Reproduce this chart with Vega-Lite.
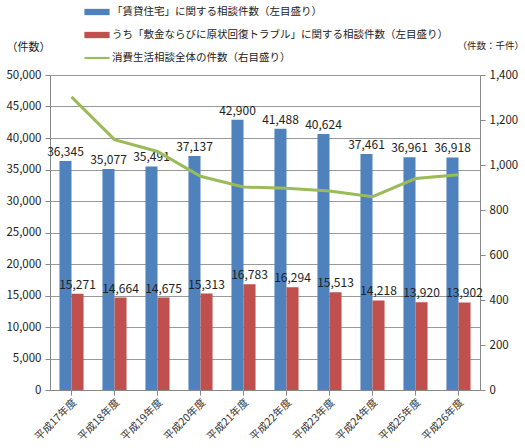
{
  "$schema": "https://vega.github.io/schema/vega-lite/v6.json",
  "autosize": {"type": "none"},
  "width": 430,
  "height": 315,
  "padding": {"left": 50, "top": 75, "right": 45, "bottom": 58},
  "background": "white",
  "config": {
    "font": "Noto Sans CJK JP",
    "view": {"stroke": null},
    "axis": {"labelFont": "Noto Sans CJK JP", "labelFontSize": 11.5, "labelColor": "#222", "domainColor": "#888", "tickColor": "#888", "gridColor": "#999", "titleFont": "Noto Sans CJK JP", "titleFontWeight": "normal", "titleFontSize": 11, "titleColor": "#222", "labelOverlap": false}
  },
  "datasets": {
    "main": [
      {"year": "平成17年度", "series": "「賃貸住宅」に関する相談件数（左目盛り）", "value": 36345},
      {"year": "平成18年度", "series": "「賃貸住宅」に関する相談件数（左目盛り）", "value": 35077},
      {"year": "平成19年度", "series": "「賃貸住宅」に関する相談件数（左目盛り）", "value": 35491},
      {"year": "平成20年度", "series": "「賃貸住宅」に関する相談件数（左目盛り）", "value": 37137},
      {"year": "平成21年度", "series": "「賃貸住宅」に関する相談件数（左目盛り）", "value": 42900},
      {"year": "平成22年度", "series": "「賃貸住宅」に関する相談件数（左目盛り）", "value": 41488},
      {"year": "平成23年度", "series": "「賃貸住宅」に関する相談件数（左目盛り）", "value": 40624},
      {"year": "平成24年度", "series": "「賃貸住宅」に関する相談件数（左目盛り）", "value": 37461},
      {"year": "平成25年度", "series": "「賃貸住宅」に関する相談件数（左目盛り）", "value": 36961},
      {"year": "平成26年度", "series": "「賃貸住宅」に関する相談件数（左目盛り）", "value": 36918},
      {"year": "平成17年度", "series": "うち「敷金ならびに原状回復トラブル」に関する相談件数（左目盛り）", "value": 15271},
      {"year": "平成18年度", "series": "うち「敷金ならびに原状回復トラブル」に関する相談件数（左目盛り）", "value": 14664},
      {"year": "平成19年度", "series": "うち「敷金ならびに原状回復トラブル」に関する相談件数（左目盛り）", "value": 14675},
      {"year": "平成20年度", "series": "うち「敷金ならびに原状回復トラブル」に関する相談件数（左目盛り）", "value": 15313},
      {"year": "平成21年度", "series": "うち「敷金ならびに原状回復トラブル」に関する相談件数（左目盛り）", "value": 16783},
      {"year": "平成22年度", "series": "うち「敷金ならびに原状回復トラブル」に関する相談件数（左目盛り）", "value": 16294},
      {"year": "平成23年度", "series": "うち「敷金ならびに原状回復トラブル」に関する相談件数（左目盛り）", "value": 15513},
      {"year": "平成24年度", "series": "うち「敷金ならびに原状回復トラブル」に関する相談件数（左目盛り）", "value": 14218},
      {"year": "平成25年度", "series": "うち「敷金ならびに原状回復トラブル」に関する相談件数（左目盛り）", "value": 13920},
      {"year": "平成26年度", "series": "うち「敷金ならびに原状回復トラブル」に関する相談件数（左目盛り）", "value": 13902}
    ],
    "total": [
      {"year": "平成17年度", "total": 1303},
      {"year": "平成18年度", "total": 1113},
      {"year": "平成19年度", "total": 1060},
      {"year": "平成20年度", "total": 950},
      {"year": "平成21年度", "total": 902},
      {"year": "平成22年度", "total": 897},
      {"year": "平成23年度", "total": 884},
      {"year": "平成24年度", "total": 859},
      {"year": "平成25年度", "total": 940},
      {"year": "平成26年度", "total": 957}
    ]
  },
  "encoding": {
    "x": {
      "field": "year", "type": "nominal", "sort": null,
      "scale": {"paddingInner": 0.44, "paddingOuter": 0.22},
      "axis": {"title": null, "labelAngle": -45, "labelFontSize": 10.5, "labelColor": "#333", "domainColor": "#888", "tickSize": 5, "ticks": true}
    }
  },
  "layer": [
    {
      "data": {"name": "main"},
      "encoding": {
        "xOffset": {"field": "series", "type": "nominal", "sort": null, "scale": {"paddingInner": 0, "paddingOuter": 0}},
        "y": {"field": "value", "type": "quantitative", "scale": {"domain": [0, 50000]},
          "axis": {"orient": "left", "values": [0,5000,10000,15000,20000,25000,30000,35000,40000,45000,50000], "format": ",d", "grid": true, "tickSize": 5, "labelPadding": 4, "labelOverlap": false,
            "title": "（件数）", "titleAngle": 0, "titleAlign": "left", "titleBaseline": "middle", "titleX": -44, "titleY": -28}}
      },
      "layer": [
        {
          "mark": {"type": "bar"},
          "encoding": {
            "color": {
              "field": "series", "type": "nominal",
              "scale": {
                "domain": ["「賃貸住宅」に関する相談件数（左目盛り）", "うち「敷金ならびに原状回復トラブル」に関する相談件数（左目盛り）", "消費生活相談全体の件数（右目盛り）"],
                "range": ["#4F81BD", "#C0504D", "#9BBB59"]
              },
              "legend": {
                "title": null, "orient": "none", "legendX": 38, "legendY": -72, "direction": "vertical",
                "symbolType": "M-1.4,-0.35H1.4V0.35H-1.4Z", "symbolSize": 324, "symbolStrokeWidth": 0,
                "labelFont": "Noto Sans CJK JP", "labelFontSize": 10.5, "labelColor": "#222", "rowPadding": 8, "labelOffset": 6, "labelLimit": 0,
                "encode": {"symbols": {"update": {"shape": {"signal": "datum.index == 2 ? 'M-1.4,-0.12H1.4V0.12H-1.4Z' : 'M-1.4,-0.35H1.4V0.35H-1.4Z'"}}}}
              }
            }
          }
        },
        {
          "mark": {"type": "text", "dy": -9, "fontSize": 12, "color": "#222", "font": "Noto Sans CJK JP"},
          "encoding": {
            "text": {"field": "value", "type": "quantitative", "format": ",d"}
          }
        }
      ]
    },
    {
      "data": {"name": "total"},
      "mark": {"type": "line", "color": "#9BBB59", "strokeWidth": 3},
      "encoding": {
        "y": {"field": "total", "type": "quantitative", "scale": {"domain": [0, 1400]},
          "axis": {"orient": "right", "values": [0,200,400,600,800,1000,1200,1400], "format": ",d", "grid": false, "tickSize": 5, "labelPadding": 4, "labelOverlap": false,
            "title": "（件数：千件）", "titleAngle": 0, "titleAlign": "left", "titleBaseline": "middle", "titleFontSize": 9.5, "titleX": -23, "titleY": -30}}
      }
    }
  ],
  "resolve": {"scale": {"y": "independent"}}
}
